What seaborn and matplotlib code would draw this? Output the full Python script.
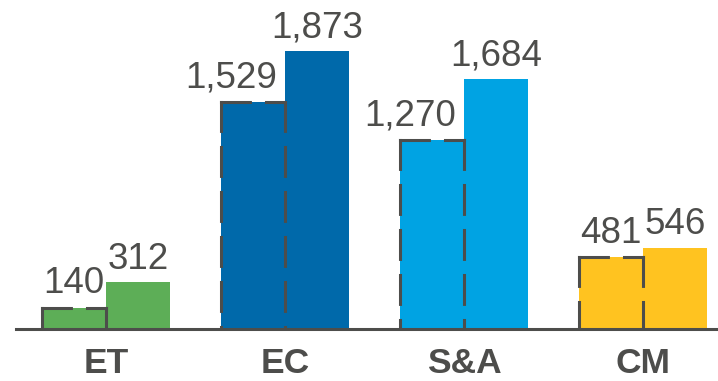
import matplotlib
matplotlib.use("Agg")
import matplotlib.pyplot as plt
import seaborn as sns
import pandas as pd

categories = ["ET", "EC", "S&A", "CM"]
prior_values = [140, 1529, 1270, 481]
current_values = [312, 1873, 1684, 546]
periods = ["Prior", "Current"]
colors = ["#5DAE57", "#0069AA", "#00A3E3", "#FFC320"]

text_color = "#4D4D4B"

df = pd.DataFrame({
    "category": categories * 2,
    "period": [periods[0]] * 4 + [periods[1]] * 4,
    "value": prior_values + current_values,
})

sns.set_theme(style="white")
plt.rcParams["font.family"] = ["Liberation Sans", "DejaVu Sans"]
plt.rcParams["lines.scale_dashes"] = False

fig = plt.figure(figsize=(7.18, 3.81), dpi=100)
ax = fig.add_axes([16 / 718, 52.5 / 381, 702 / 718, 328.5 / 381])

sns.barplot(data=df, x="category", y="value", hue="period", order=categories,
            hue_order=periods, width=0.72, gap=0, dodge=True, legend=False,
            errorbar=None, ax=ax)

prior_bars = ax.containers[0]
current_bars = ax.containers[1]

dash_style = dict(color=text_color, linewidth=2.2, dashes=(20.8, 11.6),
                  dash_capstyle="projecting", zorder=4)

for i, bar in enumerate(prior_bars):
    bar.set_facecolor(colors[i])
    bar.set_edgecolor("none")
    bar.set_linewidth(0)
    bar.set_zorder(2)
    x0 = bar.get_x()
    x1 = x0 + bar.get_width()
    h = bar.get_height()
    ax.plot([x0, x1], [h, h], **dash_style)
    ax.plot([x0, x0], [h, 0], **dash_style)
    ax.plot([x1, x1], [h, 0], **dash_style)

for i, bar in enumerate(current_bars):
    bar.set_facecolor(colors[i])
    bar.set_edgecolor("none")
    bar.set_linewidth(0)
    bar.set_zorder(2)

# labels
for i, bar in enumerate(prior_bars):
    v = prior_values[i]
    if v >= 1000:
        x = bar.get_x() + bar.get_width()
        ax.annotate(f"{v:,}", (x, v), xytext=(-6, 10.5), textcoords="offset points",
                    ha="right", va="baseline", fontsize=26.5, color=text_color)
    else:
        x = bar.get_x() + bar.get_width() / 2
        ax.annotate(f"{v:,}", (x, v), xytext=(0, 10.5), textcoords="offset points",
                    ha="center", va="baseline", fontsize=26.5, color=text_color)
for i, bar in enumerate(current_bars):
    v = current_values[i]
    x = bar.get_x() + bar.get_width() / 2
    ax.annotate(f"{v:,}", (x, v), xytext=(0, 9.5), textcoords="offset points",
                ha="center", va="baseline", fontsize=26.5, color=text_color)

ax.set_xlim(-0.503, 3.419)
ax.set_ylim(0, 2217)
ax.set_xlabel("")
ax.set_ylabel("")
ax.set_yticks([])
ax.tick_params(axis="x", length=0, pad=13, labelsize=25.5, labelcolor=text_color)
for lab in ax.get_xticklabels():
    lab.set_fontweight("bold")

for s in ["top", "right", "left"]:
    ax.spines[s].set_visible(False)
ax.spines["bottom"].set_color(text_color)
ax.spines["bottom"].set_linewidth(2.2)
ax.spines["bottom"].set_zorder(5)
ax.patch.set_alpha(0)

fig.savefig("out.png", dpi=100)
